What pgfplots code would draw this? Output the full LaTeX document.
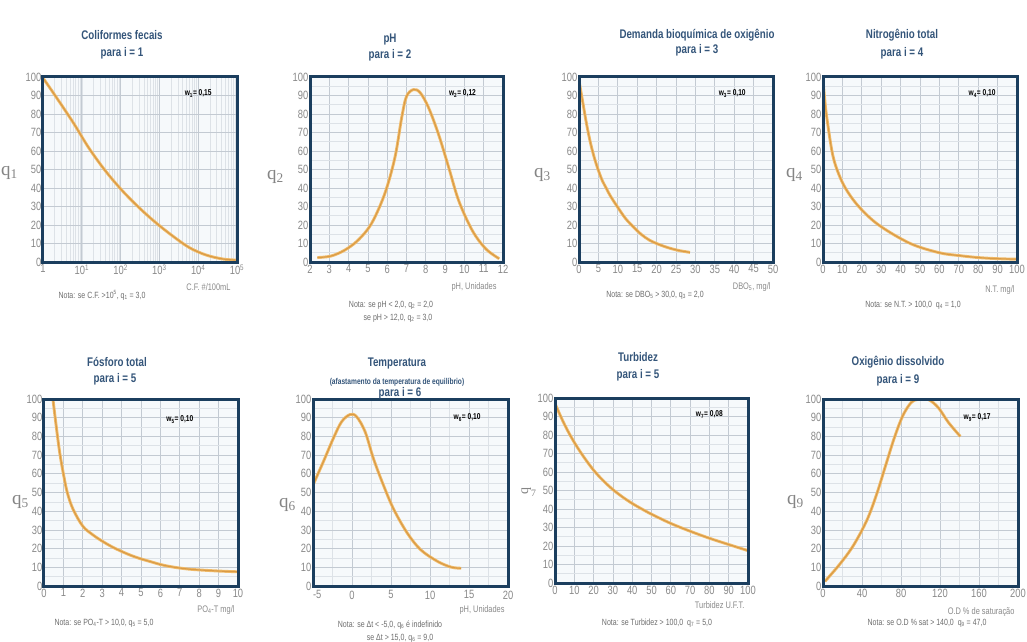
\documentclass[border=0pt]{standalone}
\usepackage{fontspec}
\setmainfont{Liberation Sans}
\newfontfamily\narrow[FakeStretch=0.78]{Liberation Sans}
\newfontfamily\qfont{Liberation Serif}
\usepackage{pgfplots}
\pgfplotsset{compat=1.18}
\definecolor{framec}{HTML}{1B3E5E}
\definecolor{gridc}{HTML}{C3CAD2}
\definecolor{gridm}{HTML}{DDE2E7}
\definecolor{curveo}{HTML}{F0BB6A}
\definecolor{curvei}{HTML}{D99A45}
\definecolor{tickc}{HTML}{8A8A8A}
\definecolor{titlec}{HTML}{34557A}
\definecolor{bgc}{HTML}{F6F9FB}
\definecolor{notec}{HTML}{6E6E6E}
\definecolor{qc}{HTML}{858585}
\tikzset{
  crv/.style={draw=curveo, double=curvei, line width=0.9pt, double distance=1.1pt, smooth, tension=0.55, mark=none},
  ttl/.style={font=\fontsize{12.5}{12.5}\narrow\bfseries, text=titlec},
  note/.style={font=\fontsize{9}{9}\narrow, text=notec},
  xl/.style={font=\fontsize{9.5}{9.5}\narrow, text=tickc, anchor=east},
  ql/.style={font=\fontsize{19}{19}\qfont, text=qc, anchor=east, inner sep=0pt},
  wlab/.style={font=\fontsize{8.5}{8.5}\narrow\bfseries, text=black},
}
\pgfplotsset{
  qual/.style={
    scale only axis,
    anchor=south west,
    ymin=0, ymax=100, ytick={0,10,...,100},
    minor y tick num=1,
    axis line style={draw=none},
    axis background/.style={fill=bgc},
    grid=both,
    major grid style={draw=gridc, line width=0.8pt},
    minor grid style={draw=gridm, line width=0.6pt},
    tick style={draw=none},
    major tick length=0pt, minor tick length=0pt,
    ticklabel style={font=\fontsize{12}{12}\narrow, text=tickc},
    /pgf/number format/assume math mode=true,
    yticklabel style={inner sep=1.5pt},
    xticklabel style={inner sep=1.5pt, yshift=-1pt},
    after end axis/.code={\draw[framec, line width=3pt] (rel axis cs:0,0) rectangle (rel axis cs:1,1);},
  }
}
\begin{document}
\begin{tikzpicture}[x=1pt,y=1pt]
\fill[white] (0,0) rectangle (1027,641);
\path[use as bounding box] (0,0) rectangle (1027,641);

% ---------- P1 Coliformes fecais
\begin{axis}[qual, at={(43pt,379pt)}, width=194pt, height=185pt,
  xmode=log, xmin=1, xmax=100000,
  xtick={1,10,100,1000,10000,100000},
  xticklabels={1,10\textsuperscript{1},10\textsuperscript{2},10\textsuperscript{3},10\textsuperscript{4},10\textsuperscript{5}},
  minor y tick num=0]
\addplot[crv] coordinates {(1,98.5) (1.12,98) (5.5,76.6) (14.8,62) (39.8,49.5) (110,38.6) (295,29.5) (794,21.4) (2188,14.1) (5888,7.8) (15849,3.8) (43652,1.6) (100000,1)};
\node[wlab] at (rel axis cs:0.80,0.91) {w\textsubscript{1}= 0,15};
\end{axis}
\node[ttl] at (122,606) {Coliformes fecais};
\node[ttl] at (122,588) {para i = 1};
\node[ql] at (18,468) {q\textsubscript{1}};
\node[xl] at (234,354) {C.F. \#/100mL};
\node[note] at (102,346) {Nota: se C.F. >10\textsuperscript{5}, q\textsubscript{1} = 3,0};

% ---------- P2 pH
\begin{axis}[qual, at={(310pt,379pt)}, width=193pt, height=185pt,
  xmin=2, xmax=12, xtick={2,3,...,12}, minor x tick num=0]
\addplot[crv] coordinates {(2.38,2.4) (3.08,3.2) (3.78,6.3) (4.48,11.7) (5.18,20.7) (5.87,36.8) (6.4,56.5) (6.75,78) (7.0,89.5) (7.36,93.2) (7.71,91.5) (8.14,83.5) (8.66,69) (9.19,51) (9.71,33) (10.41,17) (11.1,7.2) (11.8,1.8)};
\node[wlab] at (rel axis cs:0.79,0.91) {w\textsubscript{2}= 0,12};
\end{axis}
\node[ttl] at (390,601) {pH};
\node[ttl] at (390,586) {para i = 2};
\node[ql] at (284,464) {q\textsubscript{2}};
\node[xl] at (500,354) {pH, Unidades};
\node[note] at (391,336) {Nota: se pH < 2,0, q\textsubscript{2} = 2,0};
\node[note] at (398,323) {se pH > 12,0, q\textsubscript{2} = 3,0};

% ---------- P3 DBO
\begin{axis}[qual, at={(579pt,379pt)}, width=194pt, height=185pt,
  xmin=0, xmax=50, xtick={0,5,...,50}, minor x tick num=0]
\addplot[crv] coordinates {(0,98) (1,86) (2,74) (3,64) (4,56) (5,49.5) (6,44) (7,40) (8,36) (10,29.5) (12,23.5) (14,19) (16,15) (18,12) (20,10) (22,8.4) (24,7.1) (26,6.1) (28.6,5.2)};
\node[wlab] at (rel axis cs:0.79,0.91) {w\textsubscript{3}= 0,10};
\end{axis}
\node[ttl] at (697,606) {Demanda bioquímica de oxigênio};
\node[ttl] at (697,591) {para i = 3};
\node[ql] at (551,466) {q\textsubscript{3}};
\node[xl] at (774,354) {DBO\textsubscript{5}, mg/l};
\node[note] at (655,346) {Nota: se DBO\textsubscript{5} > 30,0, q\textsubscript{3} = 2,0};

% ---------- P4 Nitrogenio
\begin{axis}[qual, at={(823pt,379pt)}, width=194pt, height=185pt,
  xmin=0, xmax=100, xtick={0,10,...,100}, minor x tick num=0]
\addplot[crv] coordinates {(0,98) (0.8,89) (1.7,80) (4.6,60) (7.2,50) (11.5,40) (18.4,30) (28.7,20) (45,10) (60,5) (70,3.5) (80,2.4) (90,1.8) (100,1.5)};
\node[wlab] at (rel axis cs:0.82,0.91) {w\textsubscript{4}= 0,10};
\end{axis}
\node[ttl] at (902,606) {Nitrogênio total};
\node[ttl] at (902,588) {para i = 4};
\node[ql] at (803,466) {q\textsubscript{4}};
\node[xl] at (1018,351) {N.T. mg/l};
\node[note] at (913,336) {Nota: se N.T. > 100,0\ \ q\textsubscript{4} = 1,0};

% ---------- P5 Fosforo
\begin{axis}[qual, at={(44pt,55pt)}, width=194pt, height=187pt,
  xmin=0, xmax=10, xtick={0,1,...,10}, minor x tick num=0]
\addplot[crv] coordinates {(0.46,100) (0.6,88) (0.8,72) (1.0,60) (1.2,50) (1.5,41) (2,32) (2.5,27.5) (3,24) (3.5,21) (4,18.5) (4.5,16.3) (5,14.5) (5.5,13) (6,11.5) (6.5,10.4) (7,9.6) (7.5,9) (8,8.6) (9,8) (10,7.6)};
\node[wlab] at (rel axis cs:0.70,0.89) {w\textsubscript{5}= 0,10};
\end{axis}
\node[ttl] at (117,279) {Fósforo total};
\node[ttl] at (115,262) {para i = 5};
\node[ql] at (29,139) {q\textsubscript{5}};
\node[xl] at (238,31) {PO\textsubscript{4}-T mg/l};
\node[note] at (104,18) {Nota: se PO\textsubscript{4}-T > 10,0, q\textsubscript{5} = 5,0};

% ---------- P6 Temperatura
\begin{axis}[qual, at={(313pt,55pt)}, width=195pt, height=187pt,
  xmin=-5, xmax=20, xtick={-5,0,...,20}, xticklabels={\makebox[0pt][l]{-5},0,5,10,15,20}, minor x tick num=1,
  xticklabel style={inner sep=1.5pt, yshift=-2pt}]
\addplot[crv] coordinates {(-5,54) (-3.7,66.2) (-2.41,78.8) (-1.34,87.8) (-0.25,91.7) (0.6,90.5) (1.69,82.4) (2.76,68) (4.06,53.6) (5.35,41) (7.07,28.4) (8.8,19.4) (10.95,13.2) (12.7,10.1) (13.98,9.5)};
\node[wlab] at (rel axis cs:0.79,0.90) {w\textsubscript{6}= 0,10};
\end{axis}
\node[ttl] at (397,278) {Temperatura};
\node[ttl, font=\fontsize{8.5}{8.5}\narrow\bfseries] at (397,259) {(afastamento da temperatura de equilíbrio)};
\node[ttl] at (400,248) {para i = 6};
\node[ql] at (296,136) {q\textsubscript{6}};
\node[xl] at (508,31) {pH, Unidades};
\node[note] at (390,16) {Nota: se Δt < -5,0, q\textsubscript{6} é indefinido};
\node[note] at (400,3) {se Δt > 15,0, q\textsubscript{6} = 9,0};

% ---------- P7 Turbidez
\begin{axis}[qual, at={(555pt,58pt)}, width=193pt, height=185pt,
  xmin=0, xmax=100, xtick={0,10,...,100}, minor x tick num=0]
\addplot[crv] coordinates {(0,97) (5,85.5) (10,76) (15,68) (20,61) (25,55.3) (30,50.5) (35,46.5) (40,43) (45,40) (50,37.2) (60,32.2) (70,28) (80,24.2) (90,20.8) (100,17.5)};
\node[wlab] at (rel axis cs:0.80,0.91) {w\textsubscript{7}= 0,08};
\end{axis}
\node[ttl] at (638,284) {Turbidez};
\node[ttl] at (638,266) {para i = 5};
\node[ql, font=\fontsize{14}{14}\qfont, anchor=center] at (529,149) {\rotatebox{90}{q}\textsubscript{7}};
\node[xl] at (748,36) {Turbidez U.F.T.};
\node[note] at (657,18) {Nota: se Turbidez > 100,0\ \ q\textsubscript{7} = 5,0};

% ---------- P8 Oxigenio dissolvido
\begin{axis}[qual, at={(823pt,55pt)}, width=195pt, height=187pt,
  xmin=0, xmax=200, xtick={0,40,...,200}, minor x tick num=1]
\addplot[crv] coordinates {(2,2.5) (17.4,11.8) (31.3,21.8) (45.2,35.4) (55.6,50) (64.3,64.6) (73,79) (81.7,90.9) (90.4,98.1) (97.4,99.8) (107.8,99.8) (118.2,95.4) (128.6,87.5) (140.8,80)};
\node[wlab] at (rel axis cs:0.79,0.90) {w\textsubscript{9}= 0,17};
\end{axis}
\node[ttl] at (898,279) {Oxigênio dissolvido};
\node[ttl] at (898,261) {para i = 9};
\node[ql] at (804,139) {q\textsubscript{9}};
\node[xl] at (1018,29) {O.D \% de saturação};
\node[note] at (927,18) {Nota: se O.D \% sat > 140,0\ \ q\textsubscript{9} = 47,0};
\end{tikzpicture}
\end{document}
